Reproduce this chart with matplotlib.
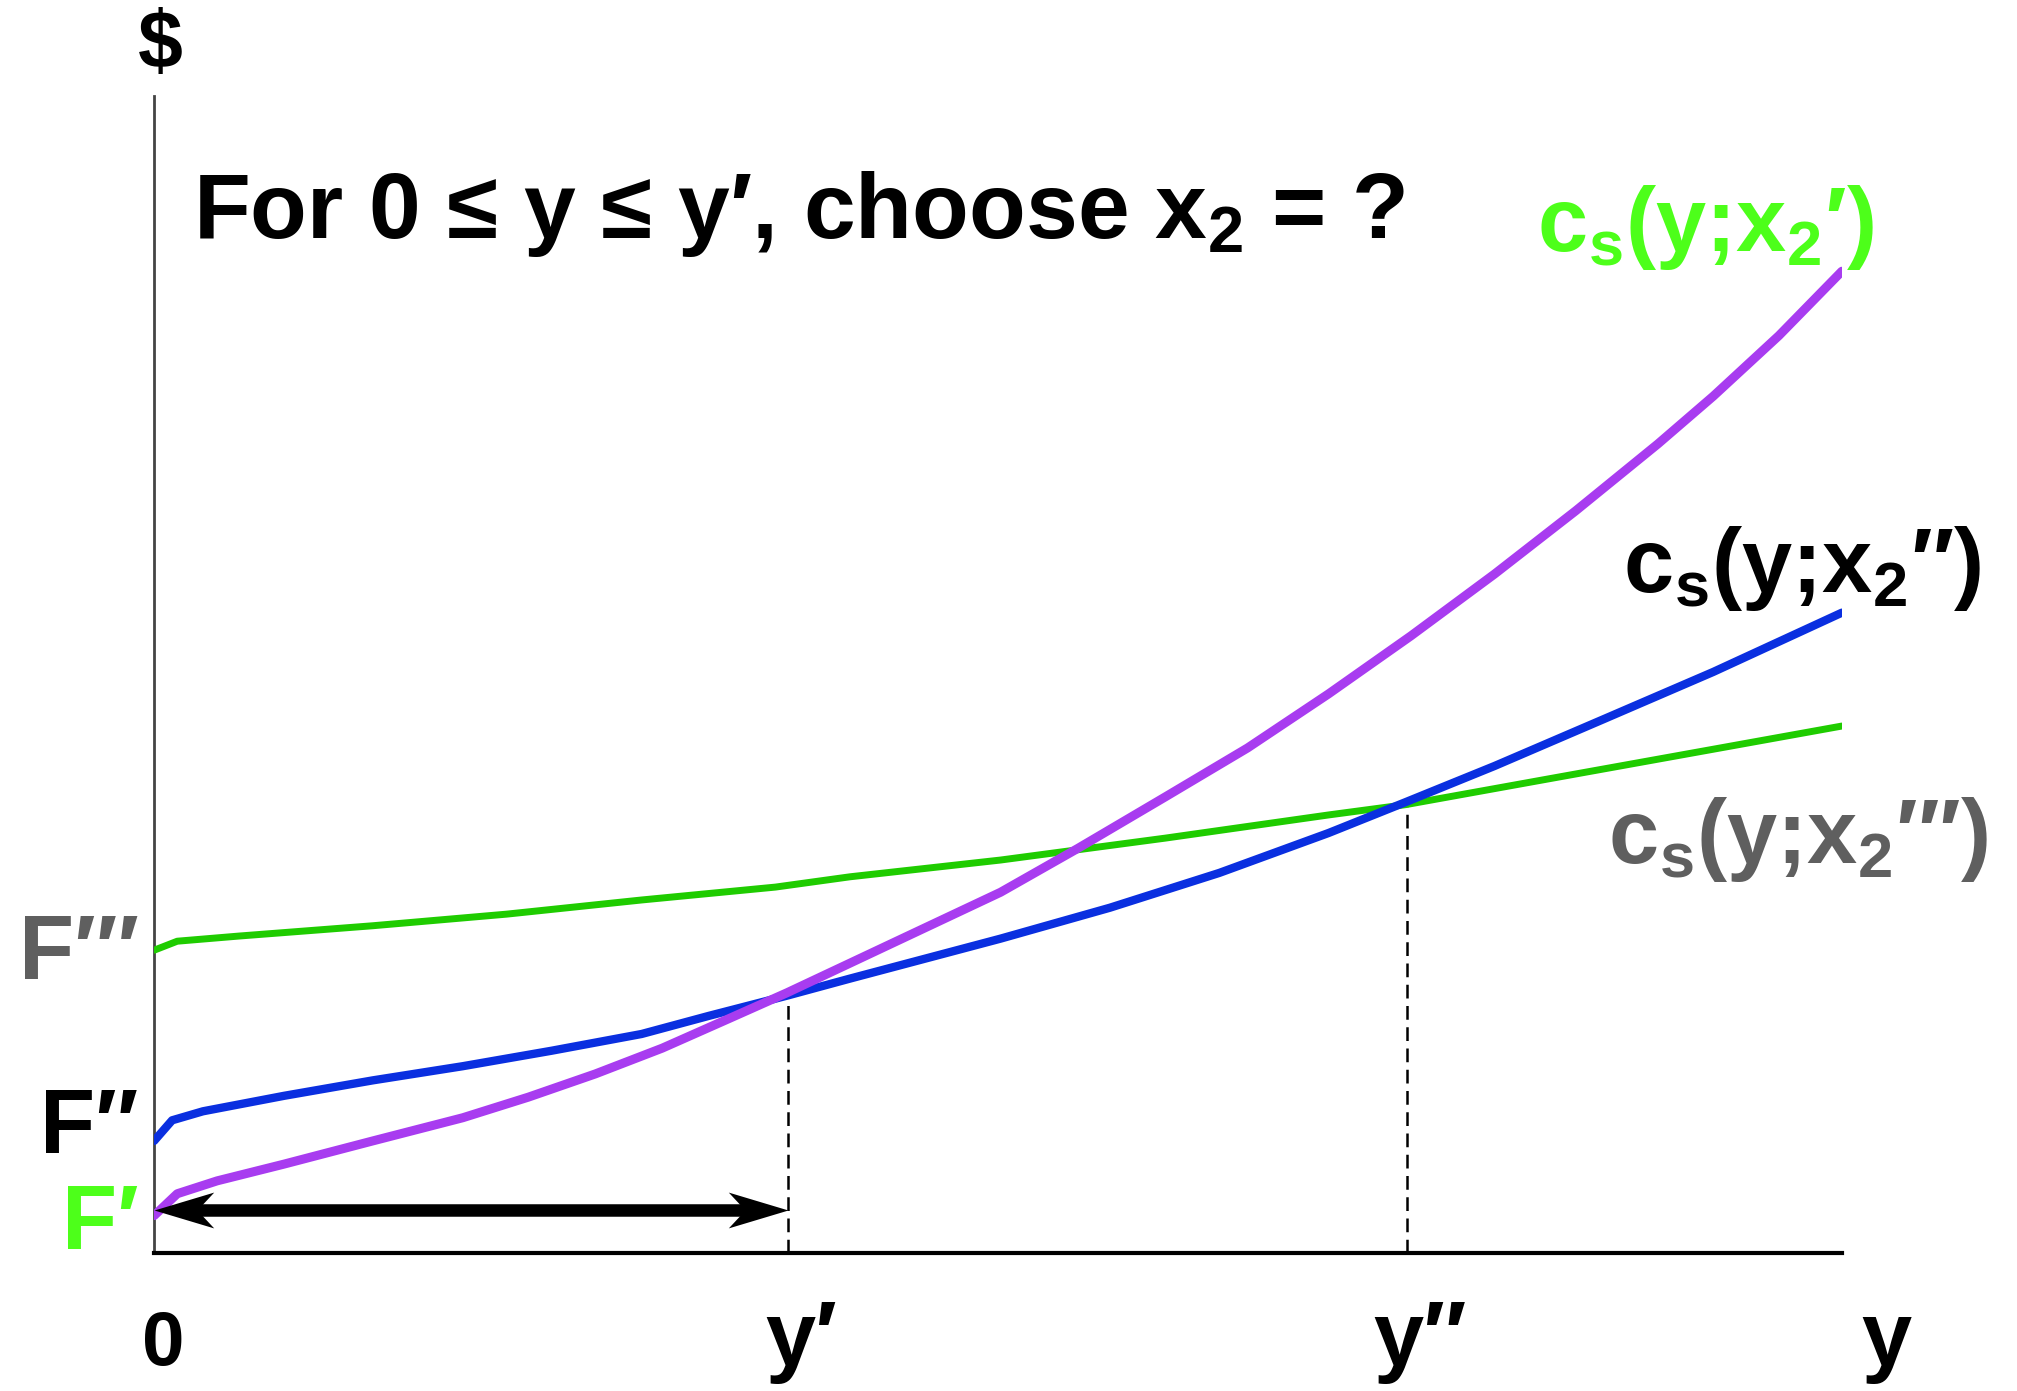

# cost curves for different plant sizes x2
# redrawn with matplotlib

import matplotlib
matplotlib.use('Agg')
from matplotlib import pyplot as plt
from matplotlib.path import Path


# y = output, values are in picture units measured from the origin
green_y = [0, 18, 66, 170, 274, 379, 483, 541, 658, 786, 913, 973, 1084, 1212, 1312]
green_c = [235, 242, 246, 254, 263, 274, 284, 292, 305, 322, 340, 348, 368, 391, 409]

blue_y = [0, 14, 38, 101, 170, 240, 309, 379, 431, 493, 541, 658, 743, 828, 913, 973, 1042, 1126, 1212, 1312]
blue_c = [87, 103, 110, 122, 134, 145, 157, 170, 184, 200, 213, 244, 268, 295, 326, 350, 378, 414, 451, 497]

purple_y = [0, 18, 49, 101, 170, 240, 291, 343, 395, 447, 492, 541, 658, 718, 786, 850, 913, 977,
			1042, 1105, 1169, 1212, 1263, 1312]
purple_c = [29, 46, 56, 69, 87, 105, 121, 139, 159, 182, 202, 225, 280, 314, 354, 392, 434, 479,
			527, 576, 628, 665, 712, 762]

# y' and y'' (where the curves cross) and their cost level
y_marks = [493, 974]
y_mark_c = [201, 348]
y_mark_labels = ['y\u2032', 'y\u2033']

# fixed costs on the $ axis
F_labels = ['F\u2032\u2032\u2032', 'F\u2033', 'F\u2032']
F_levels = [213, 78, 3]

arrow_c = 33

TITLE = 'For 0 \u2264 y \u2264 y\u2032, choose x$_{2}$ = ?'
curve_labels = ['c$_{s}$(y;x$_{2}$\u2032)', 'c$_{s}$(y;x$_{2}$\u2033)', 'c$_{s}$(y;x$_{2}$\u2032\u2032\u2032)']


def main():
	plt.rcParams['font.family'] = ['Liberation Sans', 'DejaVu Sans']
	plt.rcParams['font.weight'] = 'bold'
	plt.rcParams['mathtext.default'] = 'regular'

	GREEN_TXT = '#4dff1a'
	GRAY_TXT = '#5f5f5f'

	fig = plt.figure(figsize=(20.17, 13.91), dpi=100)
	ax = fig.add_axes([0.0764, 0.0992, 0.8368, 0.8318])
	ax.set_xlim(0, 1312)
	ax.set_ylim(0, 898)

	#axes: only left and bottom
	ax.spines['top'].set_visible(False)
	ax.spines['right'].set_visible(False)
	ax.spines['left'].set_color('#444444')
	ax.spines['left'].set_linewidth(2)
	ax.spines['bottom'].set_color('black')
	ax.spines['bottom'].set_linewidth(3)
	ax.set_xticks([])
	ax.set_yticks([])

	#curves
	ax.plot(green_y, green_c, color='#1fcc00', lw=5, solid_capstyle='round', solid_joinstyle='round', zorder=3)
	ax.plot(blue_y, blue_c, color='#0a2fe0', lw=6, solid_capstyle='round', solid_joinstyle='round', zorder=4)
	ax.plot(purple_y, purple_c, color='#a83cf0', lw=6.5, solid_capstyle='round', solid_joinstyle='round', zorder=5)

	#dashed drop lines at y' and y''
	for xm, cm in zip(y_marks, y_mark_c):
		ax.plot([xm, xm], [0, cm], color='black', lw=1.8, dashes=(5.5, 3), zorder=2)

	#double arrow 0..y' : shaft + stealth heads
	ax.annotate('', xy=(0, arrow_c), xytext=(y_marks[0], arrow_c),
				arrowprops=dict(arrowstyle='-', linewidth=9, color='black',
								shrinkA=28, shrinkB=28, capstyle='butt'), zorder=6)
	head_r = Path([(0, 0), (-1, 0.3), (-0.72, 0), (-1, -0.3), (0, 0)],
				  [Path.MOVETO, Path.LINETO, Path.LINETO, Path.LINETO, Path.CLOSEPOLY])
	head_l = Path([(0, 0), (1, 0.3), (0.72, 0), (1, -0.3), (0, 0)],
				  [Path.MOVETO, Path.LINETO, Path.LINETO, Path.LINETO, Path.CLOSEPOLY])
	ax.plot([y_marks[0]], [arrow_c], marker=head_r, markersize=86, color='black', mew=0, zorder=7, clip_on=False)
	ax.plot([0], [arrow_c], marker=head_l, markersize=86, color='black', mew=0, zorder=7, clip_on=False)

	fs = 65
	ax.text(5, 936, '$', fontsize=58, ha='center', va='center', clip_on=False)
	ax.text(30, 788, TITLE, fontsize=67, ha='left', va='baseline')

	#F labels
	F_colors = [GRAY_TXT, 'black', GREEN_TXT]
	for lab, lev, col in zip(F_labels, F_levels, F_colors):
		ax.text(-12, lev, lab, fontsize=fs, color=col, ha='right', va='baseline', clip_on=False)

	#x axis labels
	ax.text(7, -87, '0', fontsize=55, ha='center', va='baseline', clip_on=False)
	for xm, lab in zip(y_marks, y_mark_labels):
		ax.text(xm + 10, -87, lab, fontsize=fs, ha='center', va='baseline', clip_on=False)
	ax.text(1347, -87, 'y', fontsize=fs, ha='center', va='baseline', clip_on=False)

	#curve labels
	ax.text(1075, 778, curve_labels[0], fontsize=fs, color=GREEN_TXT, ha='left', va='baseline', clip_on=False)
	ax.text(1142, 513, curve_labels[1], fontsize=fs, color='black', ha='left', va='baseline', clip_on=False)
	ax.text(1130, 303, curve_labels[2], fontsize=fs, color=GRAY_TXT, ha='left', va='baseline', clip_on=False)

	fig.savefig('out.png', dpi=100)


if __name__ == '__main__': main()
